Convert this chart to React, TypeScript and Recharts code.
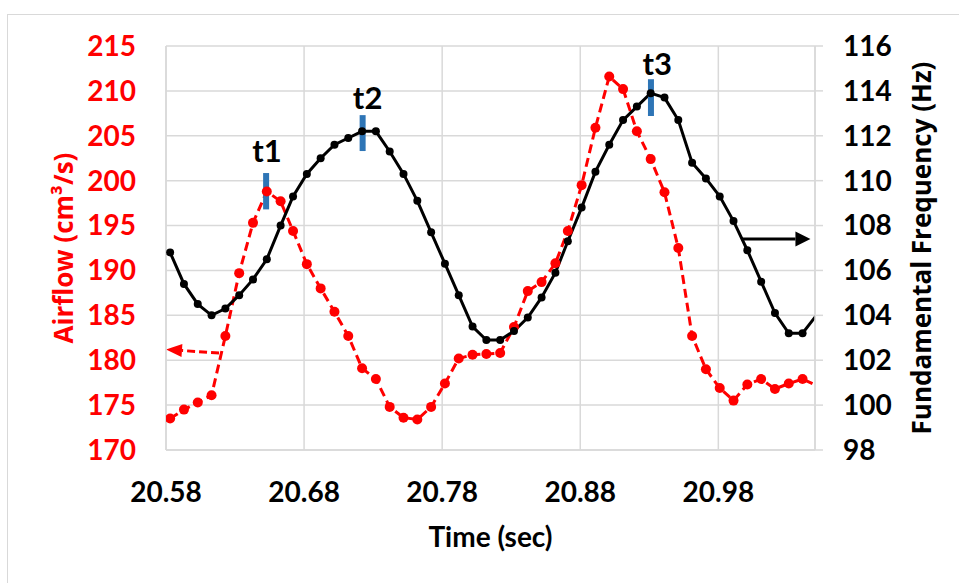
import {
  LineChart,
  Line,
  XAxis,
  YAxis,
  CartesianGrid,
  ReferenceLine,
  ReferenceDot,
} from 'recharts';

// sample times (sec), one sample roughly every 10 ms
const times = [
  20.583, 20.593, 20.603, 20.613, 20.623, 20.633, 20.643, 20.653, 20.663, 20.672,
  20.682, 20.692, 20.702, 20.712, 20.722, 20.732, 20.742, 20.752, 20.762, 20.772,
  20.782, 20.792, 20.802, 20.812, 20.822, 20.832, 20.842, 20.852, 20.862, 20.871,
  20.881, 20.891, 20.901, 20.911, 20.921, 20.931, 20.941, 20.951, 20.961, 20.971,
  20.981, 20.991, 21.001, 21.011, 21.021, 21.031, 21.041, 21.051,
];

// airflow, cm^3/s (left axis)
const airflow = [
  173.5, 174.5, 175.3, 176.1, 182.7, 189.7, 195.3, 198.8, 197.7, 194.4,
  190.7, 188.0, 185.4, 182.7, 179.1, 177.9, 174.8, 173.6, 173.4, 174.8,
  177.4, 180.2, 180.6, 180.7, 180.8, 183.7, 187.7, 188.7, 190.8, 194.4,
  199.5, 205.9, 211.6, 210.2, 205.5, 202.4, 198.7, 192.5, 182.7, 179.0,
  176.9, 175.5, 177.3, 177.9, 176.8, 177.4, 177.9, 177.2,
];

// fundamental frequency, Hz (right axis)
const frequency = [
  106.8, 105.4, 104.5, 104.0, 104.3, 104.9, 105.6, 106.5, 108.0, 109.3,
  110.3, 111.0, 111.6, 111.9, 112.2, 112.2, 111.3, 110.3, 109.1, 107.7,
  106.3, 104.9, 103.5, 102.9, 102.9, 103.3, 103.9, 104.8, 105.9, 107.3,
  108.8, 110.4, 111.6, 112.7, 113.3, 113.9, 113.7, 112.7, 110.8, 110.1,
  109.3, 108.2, 106.9, 105.5, 104.1, 103.2, 103.2, 104.0,
];

const X_MIN = 20.58;
const X_MAX = 21.05;
const timeTicks = [20.58, 20.68, 20.78, 20.88, 20.98];
const airflowTicks = [170, 175, 180, 185, 190, 195, 200, 205, 210, 215];
const freqTicks = [98, 100, 102, 104, 106, 108, 110, 112, 114, 116];

// event markers t1..t3 (drawn against the airflow axis)
const markerNames = ['t1', 't2', 't3'];
const markerTimes = [20.6525, 20.7224, 20.9312];
const markerLow = [196.8, 203.3, 207.2];
const markerHigh = [200.85, 207.3, 211.3];
const markerLabelTimes = [20.6532, 20.726, 20.9358];
const markerLabelLevels = [203.3, 209.2, 213.0];

// axis pointers: [start, tip]
const airflowArrowTimes = [20.6184, 20.58];
const airflowArrowLevels = [180.8, 181.2];
const freqArrowTimes = [20.9965, 21.0467];
const freqArrowLevels = [107.4, 107.4];

const RED = '#ff0000';
const BLUE = '#2e75b6';
const GRID = '#d9d9d9';
const TICK_FONT = "Lato, 'Liberation Sans', sans-serif";
const TITLE_FONT = "'Open Sans', 'DejaVu Sans', sans-serif";

const data = times.map((t, i) => ({ t, airflow: airflow[i], freq: frequency[i] }));

// points past the right edge keep the line going but get no marker
const makeDot = (color: string, r: number) => (p: any) => {
  const { cx, cy, payload, index } = p;
  if (payload.t > X_MAX) return <g key={`dot-${index}`} />;
  return <circle key={`dot-${index}`} cx={cx} cy={cy} r={r} fill={color} />;
};

const arrowShape = (color: string, head: number, half: number, dash?: string) => (p: any) => {
  const { x1, y1, x2, y2 } = p;
  const len = Math.hypot(x2 - x1, y2 - y1) || 1;
  const ux = (x2 - x1) / len;
  const uy = (y2 - y1) / len;
  const bx = x2 - ux * head;
  const by = y2 - uy * head;
  return (
    <g>
      <line x1={x1} y1={y1} x2={bx} y2={by} stroke={color} strokeWidth={3} strokeDasharray={dash} />
      <polygon
        points={`${x2},${y2} ${bx - uy * half},${by + ux * half} ${bx + uy * half},${by - ux * half}`}
        fill={color}
      />
    </g>
  );
};

const sideTitle = (text: string, color: string, side: 'left' | 'right') => (props: any) => {
  const vb = props.viewBox;
  const cx = side === 'left' ? vb.x - 3 : vb.x + vb.width + 6;
  const cy = vb.y + vb.height / 2;
  return (
    <text
      x={cx}
      y={cy}
      transform={`rotate(-90, ${cx}, ${cy})`}
      textAnchor="middle"
      dominantBaseline="central"
      fill={color}
      fontFamily={TITLE_FONT}
      fontWeight={700}
      fontSize={26}
    >
      {text}
    </text>
  );
};

const timeTitle = (props: any) => {
  const vb = props.viewBox;
  return (
    <text
      x={vb.x + vb.width / 2}
      y={vb.y + 97}
      textAnchor="middle"
      fill="#000"
      fontFamily={TICK_FONT}
      fontWeight={700}
      fontSize={28}
    >
      Time (sec)
    </text>
  );
};

export default function App() {
  return (
    <div style={{ position: 'absolute', left: 0, top: 0, width: 959, height: 583, background: '#fff', overflow: 'hidden' }}>
      <div
        style={{
          position: 'absolute',
          left: 7,
          top: 14,
          width: 980,
          height: 600,
          border: `1.5px solid ${GRID}`,
        }}
      />
      <div style={{ position: 'absolute', left: 0, top: 0 }}>
        <LineChart
          width={959}
          height={583}
          data={data}
          margin={{ top: 46, right: 44, bottom: 73, left: 66 }}
        >
          <CartesianGrid yAxisId="left" stroke={GRID} strokeWidth={1.5} />
          <XAxis
            dataKey="t"
            type="number"
            domain={[X_MIN, X_MAX]}
            allowDataOverflow
            ticks={timeTicks}
            interval={0}
            height={60}
            tickLine={false}
            tickSize={8}
            tickMargin={24}
            axisLine={{ stroke: GRID, strokeWidth: 1.5 }}
            tickFormatter={(v: number) => v.toFixed(2)}
            tick={{ fill: '#000', fontSize: 28, fontWeight: 700, fontFamily: TICK_FONT }}
            label={{ content: timeTitle }}
          />
          <YAxis
            yAxisId="left"
            domain={[170, 215]}
            ticks={airflowTicks}
            interval={0}
            width={100}
            tickLine={false}
            tickSize={8}
            tickMargin={22}
            axisLine={{ stroke: GRID, strokeWidth: 1.5 }}
            tick={{ fill: RED, fontSize: 28, fontWeight: 700, fontFamily: TICK_FONT }}
            label={{ content: sideTitle('Airflow (cm³/s)', RED, 'left') }}
          />
          <YAxis
            yAxisId="right"
            orientation="right"
            domain={[98, 116]}
            ticks={freqTicks}
            interval={0}
            width={100}
            tickLine={{ stroke: GRID, strokeWidth: 1.5 }}
            tickSize={8}
            tickMargin={20}
            axisLine={{ stroke: GRID, strokeWidth: 1.5 }}
            tick={{ fill: '#000', fontSize: 28, fontWeight: 700, fontFamily: TICK_FONT }}
            label={{ content: sideTitle('Fundamental Frequency (Hz)', '#000', 'right') }}
          />

          <Line
            yAxisId="left"
            dataKey="airflow"
            type="linear"
            stroke={RED}
            strokeWidth={3}
            strokeDasharray="9 5"
            dot={makeDot(RED, 5)}
            activeDot={false}
            isAnimationActive={false}
          />
          <Line
            yAxisId="right"
            dataKey="freq"
            type="linear"
            stroke="#000"
            strokeWidth={3}
            dot={makeDot('#000', 4)}
            activeDot={false}
            isAnimationActive={false}
          />

          {markerNames.map((name, i) => (
            <ReferenceLine
              key={`bar-${name}`}
              yAxisId="left"
              segment={[
                { x: markerTimes[i], y: markerLow[i] },
                { x: markerTimes[i], y: markerHigh[i] },
              ]}
              stroke={BLUE}
              strokeWidth={6}
            />
          ))}
          {markerNames.map((name, i) => (
            <ReferenceDot
              key={`lbl-${name}`}
              yAxisId="left"
              x={markerLabelTimes[i]}
              y={markerLabelLevels[i]}
              r={0}
              fill="none"
              stroke="none"
              label={{
                value: name,
                position: 'center',
                fill: '#000',
                fontSize: 31,
                fontWeight: 700,
                fontFamily: TICK_FONT,
              }}
            />
          ))}

          <ReferenceLine
            yAxisId="left"
            segment={[
              { x: airflowArrowTimes[0], y: airflowArrowLevels[0] },
              { x: airflowArrowTimes[1], y: airflowArrowLevels[1] },
            ]}
            shape={arrowShape(RED, 16, 6.5, '8 4')}
          />
          <ReferenceLine
            yAxisId="right"
            segment={[
              { x: freqArrowTimes[0], y: freqArrowLevels[0] },
              { x: freqArrowTimes[1], y: freqArrowLevels[1] },
            ]}
            shape={arrowShape('#000', 15, 7.5)}
          />
        </LineChart>
      </div>
    </div>
  );
}
